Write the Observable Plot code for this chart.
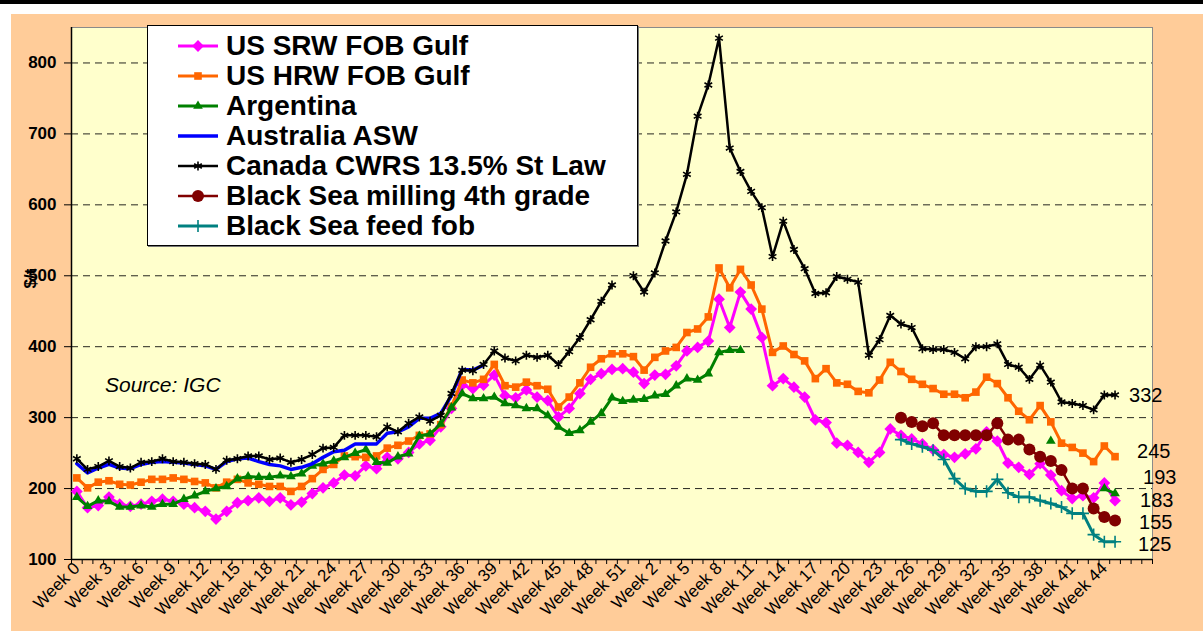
<!DOCTYPE html>
<html><head><meta charset="utf-8">
<script src="https://cdn.jsdelivr.net/npm/d3@7"></script>
<script src="https://cdn.jsdelivr.net/npm/@observablehq/plot@0.6"></script>
<style>
body{margin:0;background:#fff;font-family:"Liberation Sans",Arial,sans-serif;}
#wrap{position:relative;width:1203px;height:631px;overflow:hidden;}
#topbar{position:absolute;left:0;top:0;width:1203px;height:4px;background:#000;}
#bg{position:absolute;left:11px;top:14px;right:0;bottom:0;background:#FFCC99;}
#chart{position:absolute;left:0;top:0;}
#legend{position:absolute;left:147px;top:25px;width:489px;height:219px;background:#fff;border:1px solid #000;box-shadow:1px 1px 0 #777;}
.row{position:absolute;left:0;height:30px;display:flex;align-items:center;}
.row svg{margin-left:30px;margin-right:8px;}
.row span{font-weight:bold;font-size:28px;line-height:30px;color:#000;white-space:nowrap;}
#source{position:absolute;left:105px;top:373px;font-style:italic;font-size:21px;line-height:24px;color:#000;}
g[aria-label="y-axis tick label"] text{font-weight:bold;}
</style></head>
<body><div id="wrap"><div id="topbar"></div><div id="bg"></div><div id="chart"></div><div id="legend"></div><div id="source">Source: IGC</div></div>
<script>
// ---- categories (x axis): marketing weeks over two seasons ----
const seasonOneWeeks = d3.range(0, 53);   // Week 0 .. Week 52
const seasonTwoWeeks = d3.range(1, 49);   // Week 1 .. Week 48
const categories = [...seasonOneWeeks, ...seasonTwoWeeks].map(w => "Week " + w);
const labelledIdx = d3.range(0, 97, 3);   // every third week labelled

// ---- series values ($/t), starting at category 0 unless stated ----
const usSrw = [196,173,176,188,178,175,178,182,185,182,178,173,168,157,168,180,183,187,182,187,
  177,181,193,201,208,219,218,232,228,244,242,251,263,268,287,313,346,341,346,360,
  331,328,339,329,324,301,313,334,354,362,368,369,364,348,360,361,373,394,399,408,
  467,427,477,453,413,345,355,343,329,297,293,264,261,251,237,251,284,275,270,263,
  255,248,244,249,256,280,267,236,230,220,235,219,197,186,190,187,208,183];
const usHrw = [215,201,209,211,206,205,209,213,213,215,213,210,208,201,209,213,208,206,203,203,
  196,203,214,227,234,246,245,244,246,257,261,267,275,277,290,316,353,349,354,375,
  345,343,350,345,340,315,329,349,371,383,390,390,386,367,385,394,399,420,425,442,
  511,483,509,487,453,392,401,389,380,355,369,349,347,337,335,353,378,365,354,347,
  341,333,333,328,336,357,348,328,309,297,317,294,264,258,250,238,260,245];
const argentina = [188,175,183,182,174,174,176,174,178,178,185,190,196,200,203,214,217,216,216,218,
  217,221,232,235,239,244,250,255,237,236,245,249,274,277,291,314,334,327,327,329,
  320,317,313,313,303,287,278,282,294,306,328,323,325,326,331,333,345,355,353,362,
  392,395,395,null,null,null,null,null,null,null,null,null,null,null,null,null,null,null,null,null,
  null,null,null,null,null,null,null,null,null,null,null,267,null,null,null,null,200,193];
const australia = [235,222,229,234,229,228,234,237,238,237,236,234,232,227,238,242,243,238,234,232,
  227,230,235,244,252,254,263,263,263,278,280,287,299,299,306,331,368,367,374];
const canada = [242,227,231,239,231,229,237,238,242,238,237,235,234,227,240,242,246,246,241,243,
  237,241,248,257,258,275,275,275,273,287,280,292,301,295,303,334,367,366,375,394,
  384,380,388,385,388,375,393,413,438,464,487,null,500,477,504,549,590,643,725,769,
  835,680,647,619,596,527,577,537,510,475,476,499,495,491,388,410,444,432,427,397,
  396,396,392,383,400,400,404,375,371,354,374,350,322,320,317,311,332,332];
const blackSeaStart = 77; // first category index with Black Sea quotes
const blackSeaMilling = [300,294,288,292,275,275,275,275,275,292,269,269,255,245,239,226,200,200,172,160,155];
const blackSeaFeed = [269,263,259,254,241,214,200,196,196,213,194,188,188,183,179,174,165,165,135,125,125];

const seriesNames = ["US SRW FOB Gulf","US HRW FOB Gulf","Argentina","Australia ASW",
  "Canada CWRS 13.5% St Law","Black Sea milling 4th grade","Black Sea feed fob"];
const seriesValues = [usSrw, usHrw, argentina, australia, canada, blackSeaMilling, blackSeaFeed];
const seriesStart = [0, 0, 0, 0, 0, blackSeaStart, blackSeaStart];
const yTicks = [100,200,300,400,500,600,700,800];

// ---- styles ----
const styles = [
  {color:"#FF00FF", width:3,   symbol:"diamond2", r:5.3, stroked:false},
  {color:"#FF6600", width:3,   symbol:"square",   r:4.3, stroked:false},
  {color:"#008000", width:3,   symbol:"triangle", r:3.6, stroked:false},
  {color:"#0000FF", width:3.5, symbol:null,       r:0,   stroked:false},
  {color:"#000000", width:2.5, symbol:"asterisk", r:4.2, stroked:true},
  {color:"#800000", width:2.5, symbol:"circle",   r:6.0, stroked:false},
  {color:"#008080", width:3,   symbol:"plus",     r:4.0, stroked:true}
];
// end-label placement offsets (px) for series that carry an end value label
const endLabels = [
  {s:4, dx:14, dy:1},
  {s:1, dx:22, dy:-5},
  {s:2, dx:28, dy:-16},
  {s:0, dx:25, dy:0},
  {s:5, dx:24, dy:2},
  {s:6, dx:23, dy:3}
];

const rows = seriesValues.map((vals, s) => vals.map((v, k) => ({s, i: seriesStart[s] + k, v})));

const marks = [
  Plot.frame({fill:"#FFFFCC", stroke:"#8a8a8a"}),
  Plot.gridY(yTicks.slice(1), {stroke:"#000", strokeOpacity:0.85, strokeDasharray:"7,5", strokeWidth:1}),
  Plot.axisX(d3.range(-0.5, 101, 1), {tickSize:5, tickFormat:() => "", label:null, stroke:"#000"}),
  Plot.axisX(labelledIdx, {tickSize:0, tickPadding:6, tickRotate:-45, tickFormat:i => categories[i],
    fontSize:17, label:null}),
  Plot.axisY(yTicks, {tickSize:7, tickPadding:8, fontSize:17, fontWeight:"bold", label:null, stroke:"#000"}),
  Plot.ruleX([-0.5], {stroke:"#000", strokeWidth:1.5}),
  Plot.ruleY([100], {stroke:"#000", strokeWidth:1.5}),
  Plot.text(["$/t"], {frameAnchor:"left", rotate:-90, dx:-41, dy:-5, fontSize:17, fontWeight:"bold"})
];
rows.forEach((data, s) => {
  const st = styles[s];
  marks.push(Plot.line(data, {x:"i", y:"v", stroke:st.color, strokeWidth:st.width}));
  if (st.symbol) {
    if (st.stroked) marks.push(Plot.dot(data, {x:"i", y:"v", symbol:st.symbol, r:st.r, stroke:st.color, strokeWidth:1.6, fill:"none"}));
    else marks.push(Plot.dot(data, {x:"i", y:"v", symbol:st.symbol, r:st.r, fill:st.color, stroke:"none"}));
  }
});
endLabels.forEach(l => {
  const data = rows[l.s];
  const last = data[data.length - 1];
  marks.push(Plot.text([last], {x:"i", y:"v", text:d => String(d.v), textAnchor:"start", dx:l.dx, dy:l.dy,
    fontSize:20, fill:"#000"}));
});

const chart = Plot.plot({
  width:1203, height:631,
  marginLeft:71, marginRight:51, marginTop:27, marginBottom:72,
  style:{background:"transparent", fontFamily:"'Liberation Sans', Arial, sans-serif", color:"#000", overflow:"visible"},
  x:{type:"linear", domain:[-0.5, 100.5], axis:null},
  y:{domain:[100, 850], axis:null},
  marks
});
document.getElementById("chart").appendChild(chart);

// ---- legend (HTML overlay) ----
const legend = document.getElementById("legend");
const symbolMap = {diamond2:d3.symbolDiamond2, square:d3.symbolSquare, triangle:d3.symbolTriangle,
  asterisk:d3.symbolAsterisk, circle:d3.symbolCircle, plus:d3.symbolPlus};
seriesNames.forEach((name, s) => {
  const st = styles[s];
  const row = document.createElement("div");
  row.className = "row";
  row.style.top = (5 + 30 * s) + "px";
  const svg = d3.create("svg").attr("width", 40).attr("height", 30);
  svg.append("line").attr("x1",0).attr("x2",40).attr("y1",15).attr("y2",15)
    .attr("stroke", st.color).attr("stroke-width", st.width);
  if (st.symbol) {
    const p = d3.symbol(symbolMap[st.symbol], Math.PI * st.r * st.r)();
    const path = svg.append("path").attr("d", p).attr("transform", "translate(20,15)");
    if (st.stroked) path.attr("fill","none").attr("stroke", st.color).attr("stroke-width",1.6);
    else path.attr("fill", st.color);
  }
  row.appendChild(svg.node());
  const span = document.createElement("span");
  span.textContent = name;
  row.appendChild(span);
  legend.appendChild(row);
});
</script>
</body></html>
